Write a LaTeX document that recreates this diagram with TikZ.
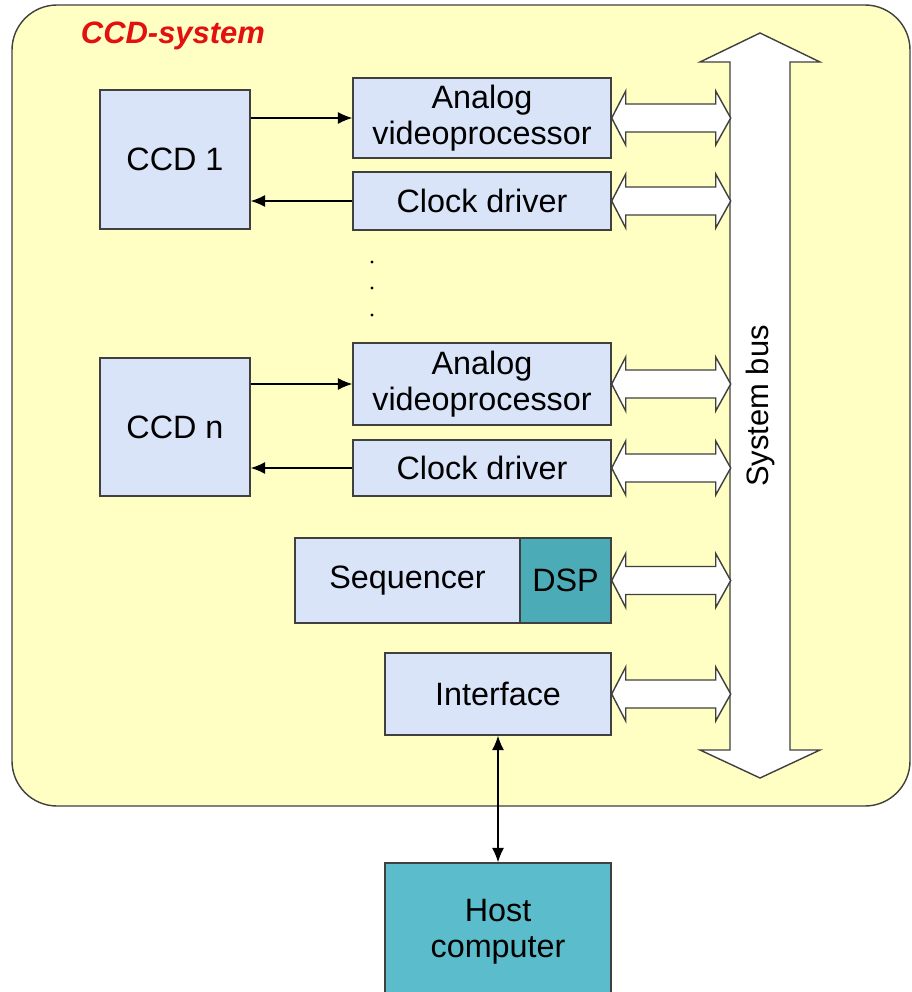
\documentclass[tikz,border=0pt]{standalone}
\usepackage{fontspec}
\setmainfont{Liberation Sans}
\usetikzlibrary{arrows.meta}
\definecolor{panel}{HTML}{FFFFC4}
\definecolor{boxblue}{HTML}{DAE4F9}
\definecolor{dspteal}{HTML}{4BACB8}
\definecolor{hostteal}{HTML}{5BBCCB}
\definecolor{edge}{HTML}{404040}
\definecolor{titlered}{HTML}{E31010}

\begin{document}
\begin{tikzpicture}[x=0.025cm, y=-0.025cm,
    box/.style={draw=edge, line width=1pt, fill=boxblue, align=center, inner sep=0pt,
        font=\fontsize{23}{26}\selectfont},
    sig/.style={-{Latex[length=0.36cm,width=0.3cm]}, line width=0.9pt},
    sigboth/.style={{Latex[length=0.36cm,width=0.3cm]}-{Latex[length=0.36cm,width=0.3cm]}, line width=0.9pt},
    busarrow/.style={draw=edge, line width=1pt, fill=white},
    dot/.style={circle, fill=black, inner sep=0pt, minimum size=0.08cm}]
    \useasboundingbox (0,0) rectangle (912,992);

    % CCD-system panel
    \draw[draw=edge, line width=1pt, fill=panel, rounded corners=1.125cm] (12,5) rectangle (910,806);
    \node[anchor=west, text=titlered, font=\fontsize{22}{26}\selectfont\bfseries\itshape] (title) at (76,36) {CCD-system};

    % CCDs
    \node[box, minimum width={150*0.025cm}, minimum height={139*0.025cm}] (ccd1) at (175,159.5) {CCD 1};
    \node[box, minimum width={150*0.025cm}, minimum height={138*0.025cm}] (ccdn) at (175,427) {CCD n};

    % processors and drivers
    \node[box, minimum width={258*0.025cm}, minimum height={80*0.025cm}] (ana1) at (482,118) {Analog\\videoprocessor};
    \node[box, minimum width={258*0.025cm}, minimum height={58*0.025cm}] (clk1) at (482,201) {Clock driver};
    \node[box, minimum width={258*0.025cm}, minimum height={82*0.025cm}] (ana2) at (482,384) {Analog\\videoprocessor};
    \node[box, minimum width={258*0.025cm}, minimum height={56*0.025cm}] (clk2) at (482,468) {Clock driver};

    \node[dot] (dot1) at (372,262) {};
    \node[dot] (dot2) at (372,288) {};
    \node[dot] (dot3) at (372,315) {};

    \node[box, minimum width={225*0.025cm}, minimum height={85*0.025cm}] (seq) at (407.5,580.5) {Sequencer};
    \node[box, fill=dspteal, minimum width={91*0.025cm}, minimum height={85*0.025cm}] (dsp) at (565.5,580.5) {DSP};
    \node[box, minimum width={226*0.025cm}, minimum height={82*0.025cm}] (iface) at (498,694) {Interface};

    \node[box, fill=hostteal, minimum width={226*0.025cm}, minimum height={137*0.025cm}] (host) at (498,931.5) {Host\\computer};

    % signals
    \draw[sig] (ccd1.east |- ana1.west) -- (ana1.west);
    \draw[sig] (clk1.west) -- (ccd1.east |- clk1.west);
    \draw[sig] (ccdn.east |- ana2.west) -- (ana2.west);
    \draw[sig] (clk2.west) -- (ccdn.east |- clk2.west);
    \draw[sigboth] (iface.south) -- (host.north);

    % system bus
    \draw[busarrow] (760,33) -- (820,62) -- (790,62) -- (790,750) -- (820,750) -- (760,778)
        -- (700,750) -- (730,750) -- (730,62) -- (700,62) -- cycle;
    \node[rotate=90, font=\fontsize{22}{26}\selectfont] (buslabel) at (760,406) {System bus};

    \foreach \b in {ana1,clk1,ana2,clk2,dsp,iface}
        \draw[busarrow] (\b.east) -- ++(14,-27) -- ++(0,13) -- ++(90,0) -- ++(0,-13) -- ++(15,27)
            -- ++(-15,27) -- ++(0,-13) -- ++(-90,0) -- ++(0,13) -- cycle;
\end{tikzpicture}
\end{document}
